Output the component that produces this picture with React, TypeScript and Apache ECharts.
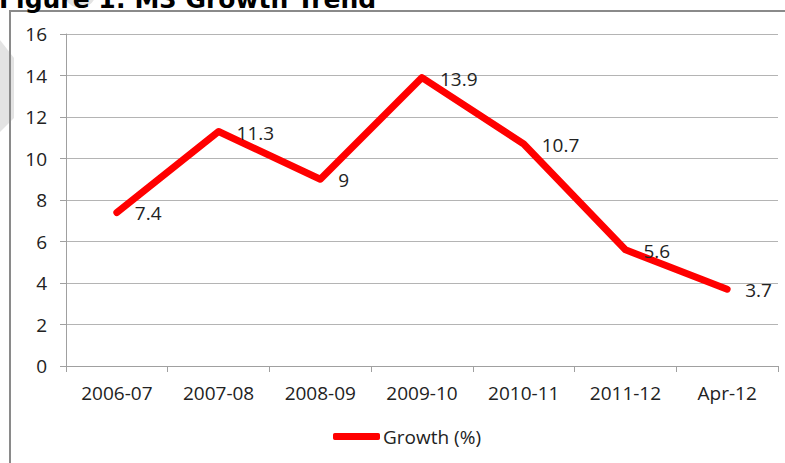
import React, { useEffect, useRef } from "react";
import * as echarts from "echarts";

const categories = ["2006-07", "2007-08", "2008-09", "2009-10", "2010-11", "2011-12", "Apr-12"];
const growth = [7.4, 11.3, 9, 13.9, 10.7, 5.6, 3.7];
const yTicks = { min: 0, max: 16, interval: 2 };
const seriesName = "Growth (%)";
const titleText = "Figure 1: M3 Growth Trend";

export default function App() {
  const ref = useRef<HTMLDivElement>(null);
  useEffect(() => {
    document.body.style.margin = "0";
    const chart = echarts.init(ref.current!, null, { renderer: "svg" });
    const font = "'Open Sans', 'Noto Sans', sans-serif";
    chart.setOption({
      animation: false,
      backgroundColor: "#fff",
      graphic: [
        {
          type: "polygon",
          silent: true,
          z: -10,
          shape: { points: [[0, 40], [14, 58], [14, 118], [0, 132]] },
          style: { fill: "#e3e3e3" },
        },
        {
          type: "circle",
          silent: true,
          z: -10,
          shape: { cx: 80, cy: -8, r: 16 },
          style: { fill: "#e3e3e3" },
        },
        {
          type: "rect",
          silent: true,
          shape: { x: 10, y: 11, width: 790, height: 470 },
          style: { fill: "none", stroke: "#8a8a8a", lineWidth: 2 },
        },
        {
          type: "text",
          left: -1,
          top: -13,
          style: {
            text: titleText,
            font: "bold 25px 'DejaVu Sans', sans-serif",
            fill: "#000",
          },
        },
      ],
      grid: { left: 66, right: 7, top: 34, bottom: 97 },
      legend: {
        bottom: 12,
        left: 328,
        itemWidth: 47,
        itemHeight: 7,
        icon: "roundRect",
        textStyle: { fontFamily: font, fontSize: 19, color: "#222", padding: [0, 0, 0, -2] },
        data: [seriesName],
      },
      xAxis: {
        type: "category",
        data: categories,
        boundaryGap: true,
        axisLine: { lineStyle: { color: "#a0a0a0", width: 1 } },
        axisTick: { show: true, length: 6, lineStyle: { color: "#a0a0a0" } },
        axisLabel: { fontFamily: font, fontSize: 19, color: "#222", margin: 17 },
      },
      yAxis: {
        type: "value",
        min: yTicks.min,
        max: yTicks.max,
        interval: yTicks.interval,
        axisLine: { show: true, lineStyle: { color: "#a0a0a0", width: 1 } },
        axisTick: { show: true, length: 6, lineStyle: { color: "#a0a0a0" } },
        axisLabel: { fontFamily: font, fontSize: 19, color: "#222", margin: 19 },
        splitLine: { lineStyle: { color: "#b4b4b4", width: 1 } },
      },
      series: [
        {
          name: seriesName,
          type: "line",
          data: growth,
          showSymbol: true,
          symbol: "circle",
          symbolSize: 2,
          lineStyle: { color: "#ff0000", width: 7, cap: "round", join: "round" },
          itemStyle: { color: "#ff0000" },
          label: {
            show: true,
            position: "right",
            distance: 17,
            offset: [0, 1],
            fontFamily: font,
            fontSize: 19,
            color: "#222",
          },
        },
      ],
    });
    return () => chart.dispose();
  }, []);
  return <div ref={ref} style={{ position: "fixed", left: 0, top: 0, width: 785, height: 463 }} />;
}
